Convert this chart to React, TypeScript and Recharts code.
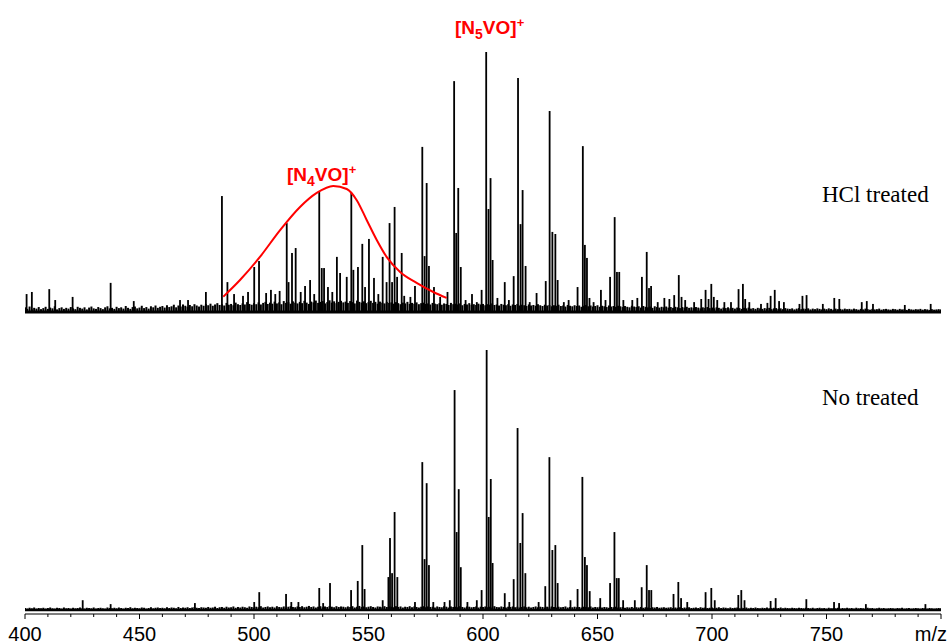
import { Bar, ComposedChart, Line, ReferenceLine, XAxis, YAxis } from "recharts";

// m/z ticks (minor every 10, labelled every 50)
const axisTicks = [
  400, 410, 420, 430, 440, 450, 460, 470, 480, 490, 500, 510, 520, 530, 540, 550, 560, 570, 580, 590, 600,
  610, 620, 630, 640, 650, 660, 670, 680, 690, 700, 710, 720, 730, 740, 750, 760, 770, 780, 790, 800,
];

// baseline noise, one value per m/z unit from 400 to 800 (% of base peak)
const noiseStart = 400;
const topNoise = [
  1.8, 1.2, 2.1, 1.0, 1.6, 1.3, 1.9, 1.1, 1.5, 2.0, 1.2, 1.7, 1.4, 2.2, 1.0, 1.5, 1.8, 1.2, 1.6, 1.3,
  1.9, 1.4, 1.1, 2.0, 1.6, 1.3, 1.8, 1.0, 1.7, 2.1, 1.4, 1.2, 1.9, 1.5, 1.1, 1.8, 2.2, 1.4, 1.6, 1.2,
  2.0, 1.5, 1.8, 1.3, 2.3, 1.6, 1.2, 1.9, 2.1, 1.4, 1.7, 2.4, 1.5, 1.9, 1.3, 2.2, 1.8, 2.5, 1.6, 2.0,
  2.3, 1.7, 2.6, 1.9, 2.2, 2.8, 1.8, 2.5, 2.1, 2.9, 2.4, 2.0, 2.7, 2.2, 3.0, 2.5, 2.1, 2.8, 2.4, 3.1,
  2.6, 3.2, 2.4, 2.9, 3.4, 2.7, 3.0, 2.5, 3.5, 2.8, 3.1, 2.6, 3.6, 3.0, 2.7, 3.3, 2.9, 3.8, 3.1, 2.8,
  3.4, 3.0, 3.7, 2.9, 3.5, 3.9, 3.1, 3.6, 3.2, 4.0, 3.3, 3.7, 3.0, 4.2, 3.5, 3.8, 3.2, 4.1, 3.6, 3.3,
  3.9, 3.4, 4.3, 3.6, 3.1, 4.0, 3.7, 4.4, 3.5, 3.9, 4.2, 3.3, 3.8, 4.5, 3.6, 4.1, 3.4, 3.9, 4.3, 3.7,
  4.0, 3.5, 4.2, 3.8, 3.3, 4.4, 3.9, 3.6, 4.1, 3.4, 3.8, 4.3, 3.5, 3.9, 3.2, 4.0, 3.6, 3.3, 3.9, 3.5,
  3.7, 3.2, 3.8, 3.4, 3.0, 3.6, 3.3, 3.9, 3.1, 3.5, 3.2, 3.7, 3.0, 3.4, 3.6, 3.1, 3.3, 2.9, 3.5, 3.2,
  3.0, 3.4, 2.8, 3.3, 3.1, 2.7, 3.5, 3.0, 3.2, 2.9, 3.3, 2.6, 3.1, 2.9, 3.4, 2.8, 3.0, 2.7, 3.2, 2.9,
  3.1, 2.6, 3.0, 2.8, 3.3, 2.7, 2.9, 2.5, 3.1, 2.8, 2.6, 3.0, 2.4, 2.9, 2.7, 3.1, 2.5, 2.8, 2.6, 2.3,
  2.9, 2.5, 2.7, 2.4, 3.0, 2.6, 2.3, 2.8, 2.5, 2.7, 2.2, 2.6, 2.4, 2.8, 2.3, 2.5, 2.1, 2.7, 2.4, 2.2,
  2.6, 2.3, 2.5, 2.0, 2.4, 2.7, 2.2, 2.5, 2.1, 2.3, 2.6, 2.0, 2.4, 2.2, 1.9, 2.5, 2.1, 2.3, 2.0, 2.4,
  2.2, 1.9, 2.3, 2.0, 1.8, 2.4, 2.1, 1.9, 2.2, 1.7, 2.3, 2.0, 1.8, 2.1, 1.6, 2.2, 1.9, 1.7, 2.0, 1.8,
  2.1, 1.7, 1.9, 1.6, 2.0, 1.8, 1.5, 1.9, 1.7, 2.0, 1.6, 1.8, 1.5, 1.9, 1.7, 1.4, 1.8, 1.6, 1.9, 1.5,
  1.7, 1.4, 1.8, 1.6, 1.3, 1.7, 1.5, 1.8, 1.4, 1.6, 1.3, 1.7, 1.5, 1.2, 1.6, 1.4, 1.7, 1.3, 1.5, 1.2,
  1.6, 1.4, 1.2, 1.5, 1.3, 1.6, 1.1, 1.4, 1.5, 1.2, 1.4, 1.1, 1.5, 1.3, 1.2, 1.4, 1.0, 1.3, 1.5, 1.1,
  1.3, 1.2, 1.4, 1.0, 1.3, 1.1, 1.4, 1.2, 1.0, 1.3, 1.1, 1.4, 1.2, 0.9, 1.3, 1.1, 1.2, 1.0, 1.3, 1.1,
  1.2, 1.0, 1.3, 1.1, 0.9, 1.2, 1.0, 1.3, 1.1, 0.9, 1.2, 1.0, 1.1, 1.3, 0.9, 1.1, 1.2, 1.0, 0.9, 1.2,
  1.1, 0.9, 1.2, 1.0, 1.1, 0.8, 1.2, 1.0, 0.9, 1.1, 1.0, 1.2, 0.9, 1.1, 1.0, 0.8, 1.1, 0.9, 1.0, 1.1,
  1.0,
];
const bottomNoise = [
  0.8, 0.6, 0.9, 0.7, 1.0, 0.6, 0.8, 0.7, 0.9, 0.6, 0.8, 1.0, 0.7, 0.6, 0.9, 0.8, 0.6, 1.0, 0.7, 0.8,
  0.6, 0.9, 0.7, 0.8, 1.0, 0.7, 0.6, 0.9, 0.8, 0.7, 1.0, 0.6, 0.8, 0.9, 0.7, 0.6, 1.0, 0.8, 0.7, 0.9,
  0.7, 1.0, 0.8, 0.6, 0.9, 0.8, 1.1, 0.7, 0.9, 0.8, 0.7, 1.0, 0.9, 0.6, 0.8, 1.1, 0.7, 0.9, 1.0, 0.8,
  0.9, 0.7, 1.1, 0.8, 1.0, 0.9, 0.7, 1.2, 0.8, 1.0, 0.9, 1.1, 0.8, 1.0, 1.2, 0.9, 0.8, 1.1, 1.0, 0.9,
  1.2, 0.9, 1.0, 1.3, 0.8, 1.1, 1.2, 0.9, 1.3, 1.0, 1.1, 1.4, 0.9, 1.2, 1.0, 1.3, 1.1, 0.9, 1.4, 1.2,
  1.0, 1.3, 1.1, 1.5, 1.0, 1.2, 1.4, 1.1, 1.3, 1.0, 1.5, 1.2, 1.1, 1.4, 1.0, 1.3, 1.5, 1.2, 1.1, 1.4,
  1.2, 1.5, 1.1, 1.3, 1.6, 1.2, 1.4, 1.0, 1.3, 1.5, 1.1, 1.4, 1.2, 1.6, 1.3, 1.1, 1.5, 1.2, 1.4, 1.3,
  1.1, 1.4, 1.2, 1.5, 1.0, 1.3, 1.6, 1.2, 1.4, 1.1, 1.3, 1.5, 1.2, 1.0, 1.4, 1.3, 1.1, 1.5, 1.2, 1.4,
  1.3, 1.1, 1.5, 1.2, 1.4, 1.0, 1.3, 1.2, 1.5, 1.1, 1.4, 1.2, 1.0, 1.3, 1.5, 1.1, 1.4, 1.2, 1.3, 1.0,
  1.4, 1.2, 1.1, 1.5, 1.3, 1.0, 1.4, 1.2, 1.3, 1.1, 1.5, 1.2, 1.0, 1.4, 1.3, 1.1, 1.2, 1.4, 1.0, 1.3,
  1.2, 1.4, 1.1, 1.3, 1.0, 1.5, 1.2, 1.1, 1.4, 1.2, 1.0, 1.3, 1.2, 1.4, 1.1, 1.3, 1.0, 1.2, 1.4, 1.1,
  1.3, 1.0, 1.2, 1.4, 1.1, 1.3, 1.2, 1.0, 1.3, 1.1, 1.4, 1.2, 1.0, 1.3, 1.1, 1.2, 1.4, 1.0, 1.2, 1.1,
  1.3, 1.1, 1.2, 1.0, 1.3, 1.2, 1.1, 1.4, 1.0, 1.2, 1.1, 1.3, 1.0, 1.2, 1.1, 0.9, 1.2, 1.1, 1.3, 1.0,
  1.1, 1.2, 0.9, 1.1, 1.0, 1.2, 0.9, 1.1, 1.0, 1.2, 0.9, 1.1, 1.0, 0.8, 1.1, 1.0, 1.2, 0.9, 1.0, 1.1,
  0.9, 1.0, 1.1, 0.8, 1.0, 0.9, 1.1, 0.8, 1.0, 0.9, 1.1, 0.8, 0.9, 1.0, 0.8, 1.1, 0.9, 1.0, 0.8, 0.9,
  1.0, 0.8, 0.9, 1.1, 0.8, 1.0, 0.9, 0.7, 1.0, 0.8, 0.9, 1.0, 0.7, 0.9, 0.8, 1.0, 0.7, 0.9, 0.8, 1.0,
  0.8, 0.7, 0.9, 0.8, 1.0, 0.7, 0.8, 0.9, 0.7, 0.8, 1.0, 0.7, 0.9, 0.8, 0.7, 0.9, 0.8, 0.7, 0.9, 0.8,
  0.7, 0.9, 0.8, 0.7, 0.9, 0.6, 0.8, 0.9, 0.7, 0.8, 0.6, 0.9, 0.7, 0.8, 0.7, 0.9, 0.6, 0.8, 0.7, 0.9,
  0.7, 0.8, 0.6, 0.9, 0.7, 0.8, 0.7, 0.6, 0.9, 0.7, 0.8, 0.6, 0.7, 0.9, 0.7, 0.8, 0.6, 0.7, 0.8, 0.7,
  0.6, 0.8, 0.7, 0.9, 0.6, 0.7, 0.8, 0.6, 0.7, 0.8, 0.7, 0.6, 0.8, 0.7, 0.6, 0.8, 0.7, 0.6, 0.7, 0.8,
  0.7,
];

// [m/z, relative intensity %]
const topPeaks = [
  [400.7, 6.9], [403.0, 7.7], [410.6, 8.8], [413.2, 4.6], [420.8, 5.8], [437.4, 11.2], [447.5, 4.2],
  [467.7, 4.6], [471.2, 4.6], [479.0, 7.7], [486.0, 44.6], [488.4, 11.5], [491.3, 6.9], [495.2, 6.2],
  [497.4, 7.7], [500.1, 17.3], [502.2, 19.6], [505.3, 7.3], [507.4, 8.5], [509.3, 6.9], [511.2, 8.1],
  [514.3, 34.2], [515.1, 11.5], [516.6, 22.7], [518.2, 24.6], [520.4, 7.7], [522.3, 10.0], [524.5, 12.3],
  [526.3, 6.9], [528.5, 46.2], [529.6, 16.9], [530.6, 16.9], [532.3, 9.6], [534.2, 7.7], [536.2, 21.2],
  [537.6, 15.0], [540.5, 13.5], [542.5, 45.8], [543.4, 16.2], [545.4, 17.3], [547.3, 26.2], [548.5, 9.6],
  [550.2, 28.1], [552.4, 13.1], [554.3, 6.9], [556.2, 21.2], [557.9, 11.5], [559.2, 34.2], [560.3, 11.5],
  [561.4, 40.4], [562.5, 13.5], [564.5, 22.7], [565.6, 6.2], [568.3, 5.8], [570.3, 10.0], [573.5, 63.5],
  [574.5, 21.5], [575.4, 49.6], [576.4, 17.7], [578.6, 9.6], [581.3, 5.8], [584.5, 7.7], [587.4, 88.8],
  [588.3, 30.4], [589.2, 47.7], [590.3, 17.3], [592.4, 4.6], [595.2, 6.9], [597.3, 3.8], [599.4, 8.5],
  [601.4, 100], [602.4, 39.6], [603.3, 51.5], [604.2, 20.0], [606.3, 5.4], [609.5, 11.5], [611.3, 4.6],
  [613.4, 13.8], [615.3, 90.0], [616.4, 33.8], [617.3, 46.9], [618.6, 17.7], [620.4, 3.8], [623.4, 7.3],
  [627.4, 11.9], [629.1, 77.3], [630.3, 30.8], [631.6, 30.0], [632.6, 12.3], [635.3, 3.8], [637.4, 4.6],
  [641.3, 9.6], [643.6, 63.8], [644.5, 25.8], [645.4, 20.8], [646.5, 5.4], [648.3, 3.8], [651.5, 8.5],
  [653.5, 4.6], [655.5, 13.5], [657.5, 36.5], [658.5, 15.4], [659.5, 15.4], [661.3, 4.6], [665.2, 4.6],
  [667.4, 5.4], [669.4, 13.5], [671.5, 23.1], [672.5, 9.2], [673.4, 10.0], [676.3, 3.8], [679.2, 5.4],
  [681.4, 5.0], [683.5, 6.5], [685.5, 14.2], [686.7, 5.8], [688.3, 4.6], [692.2, 3.8], [695.3, 5.0],
  [697.2, 8.5], [698.5, 5.0], [699.7, 10.8], [700.8, 5.8], [702.3, 4.6], [705.4, 3.8], [708.3, 3.8],
  [711.6, 8.8], [713.5, 10.8], [714.5, 5.0], [716.3, 3.8], [721.4, 3.1], [724.2, 3.5], [725.6, 6.2],
  [727.4, 8.5], [729.3, 4.2], [731.4, 3.8], [738.2, 3.1], [739.5, 6.2], [741.3, 6.5], [748.4, 3.1],
  [753.4, 5.4], [755.6, 5.0], [765.4, 3.8], [767.6, 4.2], [770.3, 3.1], [784.2, 2.7], [795.5, 3.1],
];
const bottomPeaks = [
  [425.2, 3.8], [437.4, 2.3], [474.2, 2.7], [500.1, 3.1], [502.3, 6.9], [514.0, 6.2], [516.3, 3.1],
  [519.4, 3.1], [528.5, 8.5], [530.2, 2.7], [533.2, 10.4], [542.4, 7.7], [545.3, 11.2], [547.3, 25.0],
  [548.3, 8.1], [556.2, 3.8], [558.7, 12.7], [559.4, 27.7], [560.3, 14.2], [561.4, 37.7], [562.6, 12.7],
  [570.3, 3.1], [573.5, 56.9], [574.5, 19.6], [575.4, 48.8], [576.4, 17.3], [578.3, 3.1], [583.2, 3.1],
  [585.5, 3.8], [587.6, 84.6], [588.5, 30.0], [589.4, 46.5], [590.3, 16.5], [593.2, 3.1], [597.3, 3.8],
  [599.4, 7.7], [601.6, 100], [602.5, 35.8], [603.4, 50.4], [604.2, 18.1], [609.5, 6.5], [611.5, 3.1],
  [613.4, 11.9], [615.1, 70.0], [616.3, 25.8], [617.3, 37.3], [618.5, 14.2], [624.3, 3.1], [627.2, 9.2],
  [629.0, 58.8], [630.3, 23.1], [631.6, 25.0], [632.6, 10.4], [638.2, 3.8], [641.3, 8.1], [643.4, 51.2],
  [644.5, 20.4], [645.4, 17.3], [646.6, 7.3], [651.2, 4.6], [655.5, 10.4], [657.4, 30.0], [658.4, 12.3],
  [659.3, 12.3], [661.2, 3.8], [666.3, 3.8], [669.3, 8.8], [671.5, 17.3], [672.5, 7.7], [673.5, 7.7],
  [683.2, 6.2], [685.3, 10.8], [686.5, 4.6], [689.2, 3.1], [697.2, 6.9], [699.7, 8.5], [701.2, 3.8],
  [711.5, 5.8], [712.8, 7.7], [714.2, 3.8], [725.6, 3.5], [727.8, 4.6], [741.2, 4.2], [753.3, 3.1],
  [755.5, 2.7], [767.2, 2.3], [793.2, 2.3],
];

// red envelope of the [N4VO]+ cluster (top spectrum)
const envelope = [
  [486.6, 5.9], [493.9, 12.3], [502.6, 21.2], [511.4, 31.5], [520.1, 40.4], [527.4, 45.8], [534.6, 48.5],
  [540.5, 47.3], [544.8, 43.1], [549.2, 35.4], [553.6, 27.7], [557.9, 21.2], [563.8, 15.4], [571.0, 11.2],
  [578.3, 7.7], [584.1, 5.4],
];

type Row = { mz: number; v?: number; kind?: string; fit?: number };

function buildRows(noise: number[], peaks: number[][], fit?: number[][]): Row[] {
  const rows: Row[] = noise.map((v, i) => ({ mz: noiseStart + i, v, kind: "noise" }));
  peaks.forEach(([mz, v]) => rows.push({ mz, v, kind: "peak" }));
  if (fit) fit.forEach(([mz, f]) => rows.push({ mz, fit: f }));
  return rows.sort((a, b) => a.mz - b.mz);
}

const topRows = buildRows(topNoise, topPeaks, envelope);
const bottomRows = buildRows(bottomNoise, bottomPeaks);

function Stick(props: any) {
  const { x, y, width, height, payload } = props;
  if (!height || payload?.v == null) return <g />;
  const w = payload.kind === "noise" ? 2.0 : 1.8;
  const top = height < 0 ? y + height : y;
  return <rect x={x + width / 2 - w / 2} y={top} width={w} height={Math.abs(height)} fill="#000" />;
}

function MzTick(props: any) {
  const { x, y, payload } = props;
  const v = payload.value;
  const major = v % 50 === 0;
  return (
    <g>
      <line x1={x} x2={x} y1={y} y2={y + (major ? 5 : 3)} stroke="#000" strokeWidth={1} />
      {major && (
        <text
          x={v === 800 ? x + 6 : x}
          y={y + 27}
          textAnchor={v === 800 ? "end" : "middle"}
          fontFamily="'Liberation Sans', Arial, sans-serif"
          fontSize={20}
          fill="#000"
        >
          {v === 800 ? "m/z" : v}
        </text>
      )}
    </g>
  );
}

const serif = "'Liberation Serif', 'Times New Roman', serif";
const sans = "'Liberation Sans', Arial, sans-serif";

export default function App() {
  return (
    <div style={{ position: "absolute", left: 0, top: 0, width: 951, height: 644, background: "#fff" }}>
      <div style={{ position: "absolute", left: 0, top: 0 }}>
        <ComposedChart width={951} height={320} data={topRows} margin={{ top: 52, right: 10, left: 25, bottom: 8 }}>
          <XAxis dataKey="mz" type="number" domain={[400, 800]} allowDataOverflow hide />
          <YAxis type="number" domain={[0, 100]} allowDataOverflow hide />
          <ReferenceLine y={0} stroke="#000" strokeWidth={3} />
          <Bar dataKey="v" shape={<Stick />} barSize={1.5} isAnimationActive={false} />
          <Line
            dataKey="fit"
            type="monotone"
            connectNulls
            stroke="#ff0000"
            strokeWidth={2}
            dot={false}
            activeDot={false}
            isAnimationActive={false}
          />
        </ComposedChart>
      </div>
      <div style={{ position: "absolute", left: 0, top: 340 }}>
        <ComposedChart width={951} height={304} data={bottomRows} margin={{ top: 10, right: 10, left: 25, bottom: 0 }}>
          <XAxis
            dataKey="mz"
            type="number"
            domain={[400, 800]}
            allowDataOverflow
            ticks={axisTicks}
            interval={0}
            height={30}
            tickSize={0}
            tickMargin={0}
            tickLine={false}
            axisLine={{ stroke: "#000", strokeWidth: 1.2 }}
            tick={<MzTick />}
          />
          <YAxis type="number" domain={[-1.5, 100]} allowDataOverflow hide />
          <ReferenceLine y={0} stroke="#000" strokeWidth={2.5} />
          <Bar dataKey="v" shape={<Stick />} barSize={1.5} isAnimationActive={false} />
        </ComposedChart>
      </div>
      <svg width={951} height={644} style={{ position: "absolute", left: 0, top: 0, pointerEvents: "none" }}>
        <text x={455} y={34} fill="#ff0000" fontFamily={sans} fontWeight="bold" fontSize={19}>
          [N<tspan dy={5} fontSize={14}>5</tspan>
          <tspan dy={-5}>VO]</tspan>
          <tspan dy={-7} fontSize={13}>+</tspan>
        </text>
        <text x={287} y={181} fill="#ff0000" fontFamily={sans} fontWeight="bold" fontSize={19}>
          [N<tspan dy={5} fontSize={14}>4</tspan>
          <tspan dy={-5}>VO]</tspan>
          <tspan dy={-7} fontSize={13}>+</tspan>
        </text>
        <text x={822} y={202} fill="#000" fontFamily={serif} fontSize={23}>
          HCl treated
        </text>
        <text x={822} y={405} fill="#000" fontFamily={serif} fontSize={23}>
          No treated
        </text>
      </svg>
    </div>
  );
}
